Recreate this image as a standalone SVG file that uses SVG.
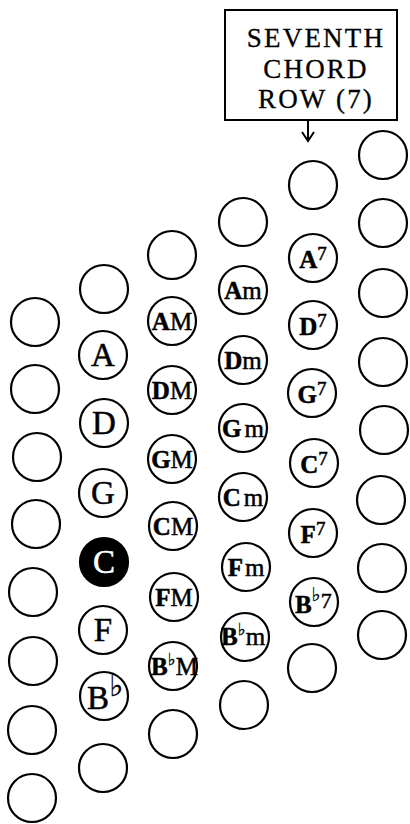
<svg xmlns="http://www.w3.org/2000/svg" width="410" height="824" viewBox="0 0 410 824">
<style>
.k{fill:#fff;stroke:#000;stroke-width:2.2}
.kb{fill:#000;stroke:#000;stroke-width:2.2}
text{font-family:"Liberation Serif","DejaVu Serif",serif;fill:#000;text-anchor:middle;stroke:#000;stroke-width:0.5}
.n{font-size:33px}
.c3{font-size:25px}
.b{font-weight:bold}
.fl{font-family:"DejaVu Sans",sans-serif;font-weight:normal;stroke-width:0.3}
.sup{font-size:19px}
.box{fill:#fff;stroke:#000;stroke-width:2}
.lbl{font-size:27px;letter-spacing:2.2px;stroke-width:0.3}
.ln{fill:none;stroke:#000;stroke-width:2}
</style>
<rect width="410" height="824" fill="#fff"/>
<g id="label-box">
<rect class="box" x="225" y="10" width="172" height="110"/>
<text class="lbl" x="316" y="47">SEVENTH</text>
<text class="lbl" x="316" y="78">CHORD</text>
<text class="lbl" x="316" y="108">ROW (7)</text>
</g>
<g id="connectors">
<path class="ln" d="M308 120 V141"/>
<path class="ln" d="M302 132 L308 141 L314 132"/>
</g>
<g id="row1">
<g id="r1-1"><circle class="k" cx="35" cy="322" r="24"/></g>
<g id="r1-2"><circle class="k" cx="35" cy="389" r="24"/></g>
<g id="r1-3"><circle class="k" cx="37" cy="457" r="24"/></g>
<g id="r1-4"><circle class="k" cx="36" cy="524" r="24"/></g>
<g id="r1-5"><circle class="k" cx="33" cy="592" r="24"/></g>
<g id="r1-6"><circle class="k" cx="33" cy="661" r="24"/></g>
<g id="r1-7"><circle class="k" cx="32" cy="730" r="24"/></g>
<g id="r1-8"><circle class="k" cx="32" cy="798" r="24"/></g>
</g>
<g id="row2">
<g id="r2-1"><circle class="k" cx="104" cy="289" r="24"/></g>
<g id="r2-A"><circle class="k" cx="103" cy="355" r="24"/><text class="n" x="103" y="366">A</text></g>
<g id="r2-D"><circle class="k" cx="104" cy="423" r="24"/><text class="n" x="104" y="434">D</text></g>
<g id="r2-G"><circle class="k" cx="103" cy="493" r="24"/><text class="n" x="103" y="504">G</text></g>
<g id="r2-C"><circle class="kb" cx="104" cy="562" r="24"/><text class="n" x="104" y="573" style="fill:#fff;stroke:#fff">C</text></g>
<g id="r2-F"><circle class="k" cx="103" cy="630" r="24"/><text class="n" x="103" y="641">F</text></g>
<g id="r2-Bb"><circle class="k" cx="104" cy="696" r="24"/><text class="n" x="87" y="709" style="text-anchor:start">B<tspan class="fl" font-size="30" dy="-13">♭</tspan></text></g>
<g id="r2-8"><circle class="k" cx="103" cy="768" r="24"/></g>
</g>
<g id="row3">
<g id="r3-1"><circle class="k" cx="172" cy="255" r="24"/></g>
<g id="r3-AM"><circle class="k" cx="172" cy="321" r="24"/><text class="c3" x="172" y="330"><tspan class="b">A</tspan>M</text></g>
<g id="r3-DM"><circle class="k" cx="172" cy="390" r="24"/><text class="c3" x="172" y="399"><tspan class="b">D</tspan>M</text></g>
<g id="r3-GM"><circle class="k" cx="172" cy="459" r="24"/><text class="c3" x="172" y="468"><tspan class="b">G</tspan>M</text></g>
<g id="r3-CM"><circle class="k" cx="173" cy="526" r="24"/><text class="c3" x="173" y="535"><tspan class="b">C</tspan>M</text></g>
<g id="r3-FM"><circle class="k" cx="174" cy="597" r="24"/><text class="c3" x="174" y="606"><tspan class="b">F</tspan>M</text></g>
<g id="r3-BbM"><circle class="k" cx="173" cy="666" r="24"/><text class="c3" x="151" y="675" style="text-anchor:start"><tspan class="b">B</tspan><tspan class="fl" font-size="17" dy="-10">♭</tspan><tspan dy="10">M</tspan></text></g>
<g id="r3-8"><circle class="k" cx="173" cy="734" r="24"/></g>
</g>
<g id="row4">
<g id="r4-1"><circle class="k" cx="243" cy="222" r="24"/></g>
<g id="r4-Am"><circle class="k" cx="243" cy="290" r="24"/><text class="c3" x="243" y="299"><tspan class="b">A</tspan>m</text></g>
<g id="r4-Dm"><circle class="k" cx="243" cy="360" r="24"/><text class="c3" x="243" y="369"><tspan class="b">D</tspan>m</text></g>
<g id="r4-Gm"><circle class="k" cx="243" cy="428" r="24"/><text class="c3" x="243" y="437"><tspan class="b">G</tspan><tspan dx="3">m</tspan></text></g>
<g id="r4-Cm"><circle class="k" cx="243" cy="497" r="24"/><text class="c3" x="243" y="506"><tspan class="b">C</tspan><tspan dx="3">m</tspan></text></g>
<g id="r4-Fm"><circle class="k" cx="246" cy="567" r="24"/><text class="c3" x="246" y="576"><tspan class="b">F</tspan><tspan dx="2">m</tspan></text></g>
<g id="r4-Bbm"><circle class="k" cx="245" cy="637" r="24"/><text class="c3" x="221" y="645" style="text-anchor:start"><tspan class="b">B</tspan><tspan class="fl" font-size="17" dy="-10">♭</tspan><tspan dy="10">m</tspan></text></g>
<g id="r4-8"><circle class="k" cx="244" cy="705" r="24"/></g>
</g>
<g id="row5">
<g id="r5-1"><circle class="k" cx="313" cy="185" r="24"/></g>
<g id="r5-A7"><circle class="k" cx="313" cy="258" r="24"/><text class="c3" x="313" y="268"><tspan class="b">A</tspan><tspan class="sup" dy="-8">7</tspan></text></g>
<g id="r5-D7"><circle class="k" cx="313" cy="325" r="24"/><text class="c3" x="313" y="335"><tspan class="b">D</tspan><tspan class="sup" dy="-8">7</tspan></text></g>
<g id="r5-G7"><circle class="k" cx="312" cy="393" r="24"/><text class="c3" x="312" y="403"><tspan class="b">G</tspan><tspan class="sup" dy="-8">7</tspan></text></g>
<g id="r5-C7"><circle class="k" cx="314" cy="463" r="24"/><text class="c3" x="314" y="473"><tspan class="b">C</tspan><tspan class="sup" dy="-8">7</tspan></text></g>
<g id="r5-F7"><circle class="k" cx="313" cy="533" r="24"/><text class="c3" x="313" y="543"><tspan class="b">F</tspan><tspan class="sup" dy="-8">7</tspan></text></g>
<g id="r5-Bb7"><circle class="k" cx="314" cy="602" r="24"/><text class="c3" x="295" y="613" style="text-anchor:start"><tspan class="b">B</tspan><tspan class="fl" font-size="19" dy="-12">♭</tspan><tspan font-size="22" dy="7">7</tspan></text></g>
<g id="r5-8"><circle class="k" cx="312" cy="668" r="24"/></g>
</g>
<g id="row6">
<g id="r6-1"><circle class="k" cx="383" cy="155" r="24"/></g>
<g id="r6-2"><circle class="k" cx="383" cy="223" r="24"/></g>
<g id="r6-3"><circle class="k" cx="383" cy="293" r="24"/></g>
<g id="r6-4"><circle class="k" cx="383" cy="362" r="24"/></g>
<g id="r6-5"><circle class="k" cx="384" cy="430" r="24"/></g>
<g id="r6-6"><circle class="k" cx="381" cy="500" r="24"/></g>
<g id="r6-7"><circle class="k" cx="382" cy="568" r="24"/></g>
<g id="r6-8"><circle class="k" cx="382" cy="635" r="24"/></g>
</g>
</svg>
